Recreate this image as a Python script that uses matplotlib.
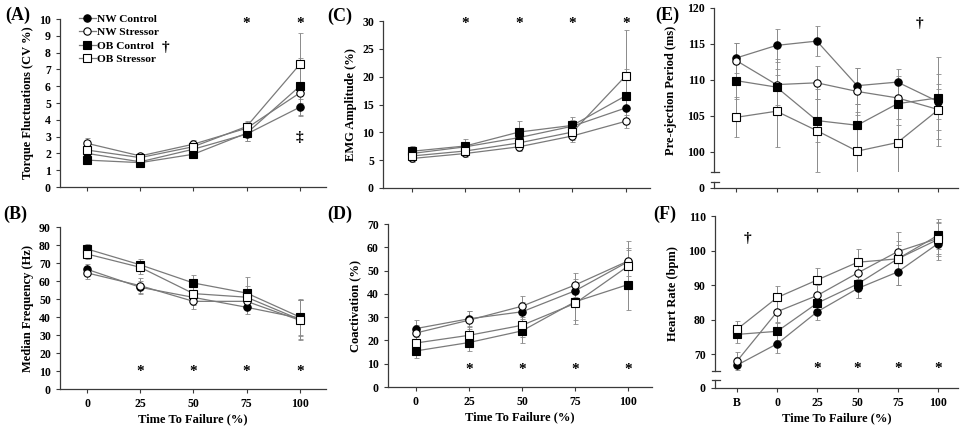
import matplotlib
matplotlib.use("Agg")
import matplotlib.pyplot as plt
import numpy as np

plt.rcParams['font.family'] = ['Liberation Serif', 'DejaVu Serif']
plt.rcParams['font.weight'] = 'bold'
plt.rcParams['axes.labelweight'] = 'bold'

# ---------------- data ----------------
x_pct = [0, 25, 50, 75, 100]
x_cardiac_labels = ['B', '0', '25', '50', '75', '100']
series_names = ['NW Control', 'NW Stressor', 'OB Control', 'OB Stressor']

torque_nw_c = [2.0, 1.5, 2.25, 3.15, 4.75]
torque_nw_s = [2.6, 1.85, 2.55, 3.5, 5.6]
torque_ob_c = [1.6, 1.45, 1.95, 3.2, 6.0]
torque_ob_s = [2.2, 1.75, 2.4, 3.6, 7.3]
torque_err_nw_c = [0.25, 0.15, 0.25, 0.4, 0.5]
torque_err_nw_s = [0.3, 0.2, 0.25, 0.35, 0.6]
torque_err_ob_c = [0.2, 0.15, 0.25, 0.45, 1.7]
torque_err_ob_s = [0.25, 0.2, 0.25, 0.3, 1.85]

mf_nw_c = [66.5, 56.5, 50.9, 45.4, 39.4]
mf_nw_s = [64.5, 57.4, 48.7, 48.7, 38.2]
mf_ob_c = [77.8, 69.0, 58.9, 53.3, 40.0]
mf_ob_s = [75.0, 67.6, 53.0, 51.0, 38.6]
mf_err_nw_c = [3.0, 3.5, 4.0, 4.0, 10.0]
mf_err_nw_s = [3.5, 4.0, 4.5, 4.5, 11.0]
mf_err_ob_c = [3.0, 3.0, 4.6, 9.0, 10.0]
mf_err_ob_s = [3.0, 3.5, 4.5, 6.0, 11.0]

emg_nw_c = [6.2, 7.4, 9.05, 11.1, 14.4]
emg_nw_s = [5.3, 6.2, 7.4, 9.35, 12.0]
emg_ob_c = [6.6, 7.55, 10.05, 11.25, 16.6]
emg_ob_s = [5.75, 6.65, 8.1, 10.05, 20.2]
emg_err_nw_c = [0.8, 0.8, 1.0, 1.2, 2.5]
emg_err_nw_s = [0.6, 0.6, 0.8, 1.0, 1.2]
emg_err_ob_c = [0.9, 1.2, 1.9, 1.5, 4.7]
emg_err_ob_s = [0.8, 0.8, 1.2, 1.5, 8.2]

coact_nw_c = [25.1, 29.3, 32.3, 41.3, 53.8]
coact_nw_s = [23.2, 28.7, 34.7, 43.8, 54.1]
coact_ob_c = [15.5, 19.1, 24.1, 36.6, 44.0]
coact_ob_s = [18.9, 22.2, 26.5, 35.9, 51.9]
coact_err_nw_c = [3.5, 3.5, 4.0, 5.0, 6.0]
coact_err_nw_s = [3.5, 4.0, 4.5, 5.0, 8.5]
coact_err_ob_c = [3.2, 3.8, 5.0, 8.0, 11.0]
coact_err_ob_s = [3.5, 4.0, 5.0, 9.0, 7.0]

pep_nw_c = [113.05, 114.8, 115.4, 109.2, 109.7, 107.0]
pep_nw_s = [112.7, 109.35, 109.6, 108.4, 107.5, 105.9]
pep_ob_c = [109.9, 109.0, 104.35, 103.7, 106.7, 107.5]
pep_ob_s = [104.8, 105.65, 102.95, 100.1, 101.3, 105.8]
pep_err_nw_c = [2.1, 2.3, 2.1, 2.5, 1.8, 2.5]
pep_err_nw_s = [2.5, 3.5, 2.3, 3.3, 3.0, 2.8]
pep_err_ob_c = [2.5, 2.5, 3.0, 3.0, 3.0, 5.7]
pep_err_ob_s = [2.8, 5.0, 5.8, 5.5, 5.8, 5.0]

hr_nw_c = [66.8, 73.0, 82.3, 89.0, 93.8, 102.0]
hr_nw_s = [68.0, 82.3, 87.0, 93.5, 99.7, 103.5]
hr_ob_c = [75.7, 76.6, 84.8, 90.3, 97.6, 104.4]
hr_ob_s = [77.2, 86.4, 91.5, 96.6, 97.6, 103.2]
hr_err_nw_c = [2.5, 2.6, 2.5, 2.8, 3.8, 3.5]
hr_err_nw_s = [2.5, 3.0, 3.0, 3.5, 3.0, 4.5]
hr_err_ob_c = [2.5, 2.5, 3.0, 4.0, 4.0, 4.0]
hr_err_ob_s = [2.5, 3.3, 3.5, 3.7, 7.7, 6.0]

# significance markers
torque_star_x = [75, 100]
mf_star_x = [25, 50, 75, 100]
emg_star_x = [25, 50, 75, 100]
coact_star_x = [25, 50, 75, 100]
hr_star_x = [2, 3, 4, 5]

# ---------------- layout ----------------
W, H = 969, 430
fig = plt.figure(figsize=(W / 100, H / 100), dpi=100)


def rect(l, r, t, b):
    return [l / W, (H - b) / H, (r - l) / W, (b - t) / H]


LINE_C = '#7a7a7a'
SPINE_C = '#3a3a3a'
TICK_FS = 8.5
LABEL_FS = 9
styles = [
    dict(marker='o', mfc='black', mec='black', ms=5.3),
    dict(marker='o', mfc='white', mec='black', ms=5.3),
    dict(marker='s', mfc='black', mec='black', ms=5.5),
    dict(marker='s', mfc='white', mec='black', ms=5.5),
]


def style_axes(ax):
    for s in ['top', 'right']:
        ax.spines[s].set_visible(False)
    for s in ['left', 'bottom']:
        ax.spines[s].set_color(SPINE_C)
        ax.spines[s].set_linewidth(0.9)
    ax.tick_params(direction='out', length=3, width=0.8, colors=SPINE_C,
                   labelcolor='black', labelsize=TICK_FS)


def draw_series(ax, x, ys, errs):
    handles = []
    for y, e, st, name in zip(ys, errs, styles, series_names):
        ax.errorbar(x, y, yerr=e, fmt='none', ecolor='#8a8a8a', elinewidth=0.7,
                    capsize=1.8, capthick=0.6, zorder=2)
        h, = ax.plot(x, y, color=LINE_C, lw=0.9, zorder=3, label=name,
                     markeredgewidth=0.8, **st)
        handles.append(h)
    return handles


def stars(ax, xs, y, txt='*'):
    for xv in xs:
        ax.text(xv, y, txt, ha='center', va='center', fontsize=11, fontweight='bold')


# ---------- Panel A ----------
axA = fig.add_axes(rect(60, 326, 19, 187))
style_axes(axA)
hA = draw_series(axA, x_pct, [torque_nw_c, torque_nw_s, torque_ob_c, torque_ob_s],
                 [torque_err_nw_c, torque_err_nw_s, torque_err_ob_c, torque_err_ob_s])
axA.set_xlim(-12.7, 112.3)
axA.set_ylim(0, 10)
axA.set_yticks(range(0, 11))
axA.set_xticks(x_pct)
axA.set_xticklabels([])
axA.set_ylabel('Torque Fluctuations (CV %)', fontsize=LABEL_FS)
stars(axA, torque_star_x, 9.75)
axA.text(37, 8.3, '†', ha='center', va='center', fontsize=11)
axA.text(100, 2.95, '‡', ha='center', va='center', fontsize=11)
axA.legend(handles=hA, loc='upper left', bbox_to_anchor=(0.07, 1.03),
           frameon=False, fontsize=8.2, handlelength=1.5, handletextpad=0.1,
           labelspacing=0.3, borderpad=0, borderaxespad=0)

# ---------- Panel B ----------
axB = fig.add_axes(rect(60, 326, 227, 389))
style_axes(axB)
draw_series(axB, x_pct, [mf_nw_c, mf_nw_s, mf_ob_c, mf_ob_s],
            [mf_err_nw_c, mf_err_nw_s, mf_err_ob_c, mf_err_ob_s])
axB.set_xlim(-12.7, 112.3)
axB.set_ylim(0, 90)
axB.set_yticks(range(0, 91, 10))
axB.set_xticks(x_pct)
axB.set_xticklabels([str(v) for v in x_pct])
axB.set_ylabel('Median Frequency (Hz)', fontsize=LABEL_FS)
axB.set_xlabel('Time To Failure (%)', fontsize=LABEL_FS, labelpad=2)
stars(axB, mf_star_x, 9.5)

# ---------- Panel C ----------
axC = fig.add_axes(rect(383, 650, 21, 188))
style_axes(axC)
draw_series(axC, x_pct, [emg_nw_c, emg_nw_s, emg_ob_c, emg_ob_s],
            [emg_err_nw_c, emg_err_nw_s, emg_err_ob_c, emg_err_ob_s])
axC.set_xlim(-13.5, 111.2)
axC.set_ylim(0, 30)
axC.set_yticks(range(0, 31, 5))
axC.set_xticks(x_pct)
axC.set_xticklabels([])
axC.set_ylabel('EMG Amplitude (%)', fontsize=LABEL_FS)
stars(axC, emg_star_x, 29.6)

# ---------- Panel D ----------
axD = fig.add_axes(rect(388, 652, 224, 387))
style_axes(axD)
draw_series(axD, x_pct, [coact_nw_c, coact_nw_s, coact_ob_c, coact_ob_s],
            [coact_err_nw_c, coact_err_nw_s, coact_err_ob_c, coact_err_ob_s])
axD.set_xlim(-13.2, 111.3)
axD.set_ylim(0, 70)
axD.set_yticks(range(0, 71, 10))
axD.set_xticks(x_pct)
axD.set_xticklabels([str(v) for v in x_pct])
axD.set_ylabel('Coactivation (%)', fontsize=LABEL_FS)
axD.set_xlabel('Time To Failure (%)', fontsize=LABEL_FS, labelpad=2)
stars(axD, coact_star_x, 7.5)

# ---------- Panels E/F (broken axis) ----------
xc = list(range(len(x_cardiac_labels)))


def broken_pair(main_rect, low_rect, ylim, yticks, ys, errs, show_labels):
    axm = fig.add_axes(main_rect)
    axl = fig.add_axes(low_rect)
    style_axes(axm)
    style_axes(axl)
    axm.spines['bottom'].set_visible(False)
    axm.tick_params(axis='x', bottom=False, labelbottom=False)
    draw_series(axm, xc, ys, errs)
    for a in (axm, axl):
        a.set_xlim(-0.55, 5.5)
    axm.set_ylim(*ylim)
    axm.set_yticks(yticks)
    axl.set_ylim(0, 1)
    axl.set_yticks([0])
    axl.set_xticks(xc)
    if show_labels:
        axl.set_xticklabels(x_cardiac_labels)
    else:
        axl.set_xticklabels([])
    # break caps
    axm.plot([-0.013, 0.02], [0, 0], transform=axm.transAxes, color=SPINE_C,
             lw=0.9, clip_on=False)
    axl.plot([-0.013, 0.02], [1, 1], transform=axl.transAxes, color=SPINE_C,
             lw=0.9, clip_on=False)
    return axm, axl


axE, axE2 = broken_pair(rect(714, 958, 8, 172), rect(714, 958, 182, 188),
                        (97.2, 120), range(100, 121, 5),
                        [pep_nw_c, pep_nw_s, pep_ob_c, pep_ob_s],
                        [pep_err_nw_c, pep_err_nw_s, pep_err_ob_c, pep_err_ob_s], False)
axE.set_ylabel('Pre-ejection Period (ms)', fontsize=LABEL_FS)
axE.yaxis.set_label_coords(-0.15, 0.5)
axE.text(4.55, 117.8, '†', ha='center', va='center', fontsize=11)

axF, axF2 = broken_pair(rect(715, 958, 216, 371), rect(715, 958, 380, 388),
                        (65.1, 110), range(70, 111, 10),
                        [hr_nw_c, hr_nw_s, hr_ob_c, hr_ob_s],
                        [hr_err_nw_c, hr_err_nw_s, hr_err_ob_c, hr_err_ob_s], True)
axF.set_ylabel('Heart Rate (bpm)', fontsize=LABEL_FS)
axF.yaxis.set_label_coords(-0.15, 0.5)
axF2.set_xlabel('Time To Failure (%)', fontsize=LABEL_FS, labelpad=2)
stars(axF, hr_star_x, 65.9)
axF.text(0.27, 103.6, '†', ha='center', va='center', fontsize=11)

# panel letters
for lab, px, py in [('(A)', 5, 15), ('(B)', 3, 214), ('(C)', 327, 16),
                    ('(D)', 327, 214), ('(E)', 655, 15), ('(F)', 653, 214)]:
    fig.text(px / W, 1 - py / H, lab, ha='left', va='center', fontsize=13,
             fontweight='bold')

fig.savefig('out.png', dpi=100)
